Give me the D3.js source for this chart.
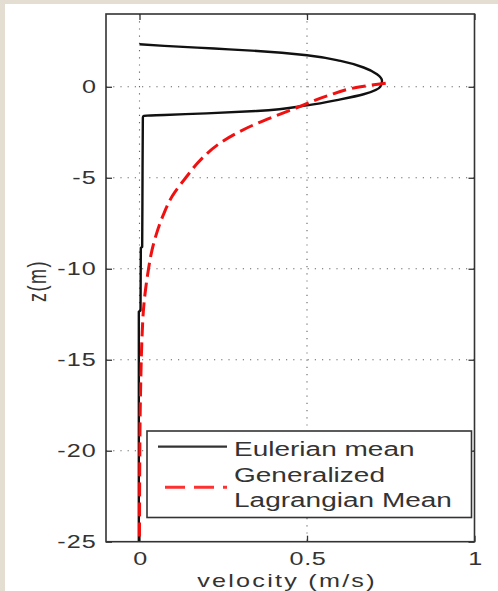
<!DOCTYPE html>
<html><head><meta charset="utf-8">
<script src="https://cdn.jsdelivr.net/npm/d3@7"></script>
<style>
html,body{margin:0;padding:0;background:#fff;}
svg{display:block;}
text{font-family:"Liberation Sans",Arial,sans-serif;fill:#333;}
</style></head><body>
<script>
// ---- data ----
const eulerZ = [2.34, 2.25, 2.10, 1.97, 1.73, 1.42, 1.06, 0.69, 0.32, 0.01, -0.41, -0.69, -1.02, -1.33, -1.46, -1.55, -1.60, -1.70, -5.0, -8.8, -8.85, -12.3, -12.35, -25];
const eulerU = [0.0, 0.074, 0.223, 0.352, 0.50, 0.60, 0.669, 0.709, 0.724, 0.719, 0.669, 0.60, 0.50, 0.35, 0.20, 0.074, 0.012, 0.010, 0.009, 0.008, 0.004, 0.003, -0.002, -0.002];
const glmZ = [0.2, 0.0, -0.5, -1.0, -1.5, -2.0, -3.0, -4.0, -5.0, -6.0, -7.0, -8.0, -9.0, -10.0, -11.0, -12.0, -14.0, -16.0, -18.0, -20.0, -25.0];
const glmU = [0.735, 0.66, 0.56, 0.49, 0.42, 0.352, 0.248, 0.183, 0.138, 0.098, 0.072, 0.052, 0.037, 0.027, 0.019, 0.013, 0.007, 0.004, 0.002, 0.001, 0.0];
const xTicks = [0, 0.5, 1];
const xTickLabels = ["0", "0.5", "1"];
const yTicks = [0, -5, -10, -15, -20, -25];
const yTickLabels = ["0", "-5", "-10", "-15", "-20", "-25"];
const seriesNames = ["Eulerian mean", ["Generalized", "Lagrangian Mean"]];

const W = 498, H = 591, SX = 1.4;
const svg = d3.select("body").append("svg").attr("width", W).attr("height", H);

// beige frame
svg.append("rect").attr("x",0).attr("y",0).attr("width",W).attr("height",H).attr("fill","#e4ddd1");
svg.append("rect").attr("x",5).attr("y",4).attr("width",W-5).attr("height",H-4).attr("fill","#fff");

const L = 106, R = 474.5, T = 14, B = 541.7;
const x = d3.scaleLinear().domain([-0.1, 1]).range([L, R]);
const y = d3.scaleLinear().domain([-25, 4]).range([B, T]);

function label(g, tx, ty, str, size, anchor, ls) {
  return g.append("text").attr("transform", `translate(${tx},${ty}) scale(${SX},1)`)
    .attr("text-anchor", anchor || "start").style("font-size", size + "px")
    .style("letter-spacing", (ls || 0) + "px").text(str);
}

// grid
const grid = svg.append("g").attr("stroke","#666").attr("stroke-width",1.1).attr("stroke-dasharray","1.2,6");
grid.selectAll(".gx").data(xTicks.filter(d => d < 1)).join("line")
  .attr("x1", d => x(d)).attr("x2", d => x(d)).attr("y1", T).attr("y2", B);
grid.selectAll(".gy").data(yTicks.filter(d => d > -25)).join("line")
  .attr("x1", L).attr("x2", R).attr("y1", d => y(d)).attr("y2", d => y(d));

// axes (inner ticks)
const axStyle = g => { g.select(".domain").remove(); g.selectAll("line").attr("stroke","#333").attr("stroke-width",1.3); g.selectAll("text").remove(); };
svg.append("g").attr("transform",`translate(0,${B})`).call(d3.axisBottom(x).tickValues(xTicks).tickSize(-6)).call(axStyle);
svg.append("g").attr("transform",`translate(0,${T})`).call(d3.axisTop(x).tickValues(xTicks).tickSize(-6)).call(axStyle);
svg.append("g").attr("transform",`translate(${L},0)`).call(d3.axisLeft(y).tickValues(yTicks).tickSize(-6)).call(axStyle);
svg.append("g").attr("transform",`translate(${R},0)`).call(d3.axisRight(y).tickValues(yTicks).tickSize(-6)).call(axStyle);

// tick labels
const tl = svg.append("g");
xTicks.forEach((d,i) => label(tl, x(d) + 1, 565, xTickLabels[i], 18, "middle", 0.5));
yTicks.forEach((d,i) => label(tl, 97, y(d) + 6.5, yTickLabels[i], 18, "end", 0.8));

// axis labels
label(svg, 287, 587, "velocity  (m/s)", 18, "middle", 1.6);
svg.append("text").attr("transform","translate(46,281) rotate(-90) scale(1,1.4)").attr("text-anchor","middle")
  .style("font-size","18px").style("letter-spacing","1.5px").text("z(m)");

// lines
const eData = eulerZ.map((z,i) => [eulerU[i], z]);
const gData = glmZ.map((z,i) => [glmU[i], z]);
const line = d3.line().x(d => x(d[0])).y(d => y(d[1])).curve(d3.curveMonotoneY);
svg.append("path").datum(eData).attr("d", line).attr("fill","none").attr("stroke","#111").attr("stroke-width",2.4);
svg.append("path").datum(gData).attr("d", line).attr("fill","none").attr("stroke","#f01010").attr("stroke-width",3).attr("stroke-dasharray","14,6");

// frame
svg.append("rect").attr("x",L).attr("y",T).attr("width",R-L).attr("height",B-T)
  .attr("fill","none").attr("stroke","#333").attr("stroke-width",1.6);

// legend
const lg = svg.append("g");
lg.append("rect").attr("x",147).attr("y",431).attr("width",324.5).attr("height",86.5)
  .attr("fill","#fff").attr("stroke","#333").attr("stroke-width",1.6);
lg.append("line").attr("x1",158).attr("x2",227).attr("y1",446.7).attr("y2",446.7).attr("stroke","#333").attr("stroke-width",2.2);
lg.append("line").attr("x1",165).attr("x2",227).attr("y1",487.3).attr("y2",487.3).attr("stroke","#ff3030").attr("stroke-width",3).attr("stroke-dasharray","20,9");
label(lg, 234, 455.5, seriesNames[0], 20);
label(lg, 234, 481.5, seriesNames[1][0], 20);
label(lg, 234, 506.5, seriesNames[1][1], 20);
</script>
</body></html>
